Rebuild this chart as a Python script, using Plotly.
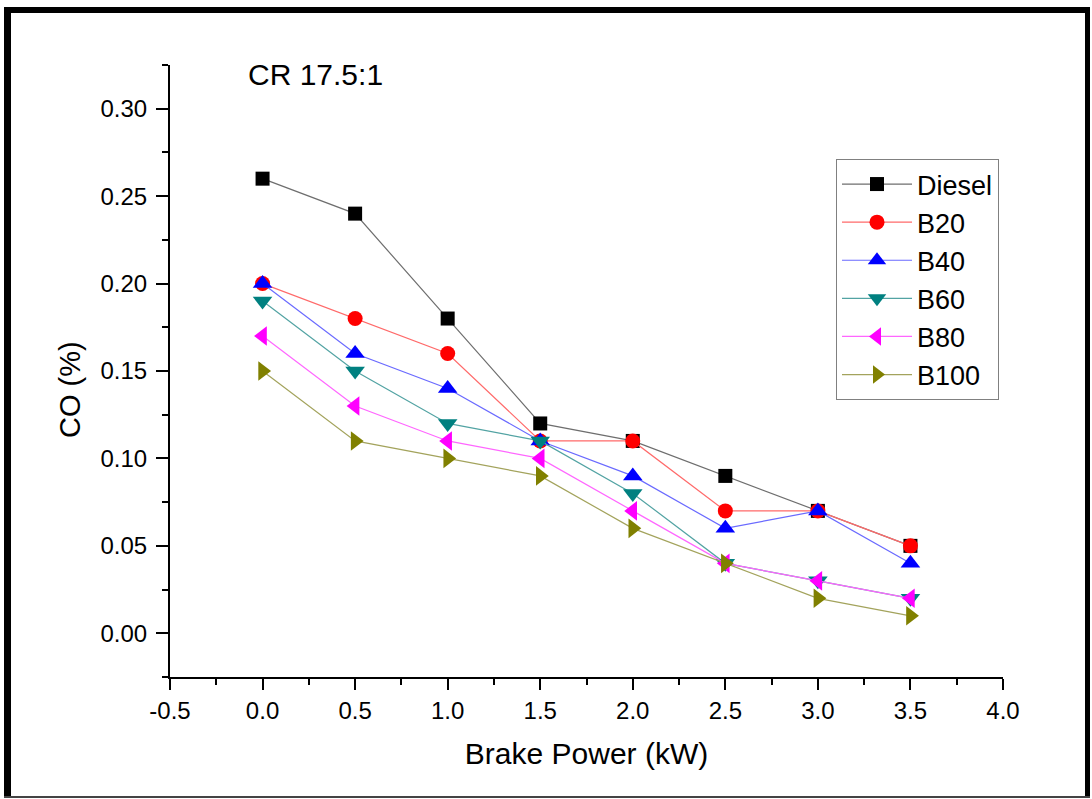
import plotly.graph_objects as go

# ---- data ----
brake_power = [0.0, 0.5, 1.0, 1.5, 2.0, 2.5, 3.0, 3.5]
diesel = [0.26, 0.24, 0.18, 0.12, 0.11, 0.09, 0.07, 0.05]
b20 = [0.20, 0.18, 0.16, 0.11, 0.11, 0.07, 0.07, 0.05]
b40 = [0.20, 0.16, 0.14, 0.11, 0.09, 0.06, 0.07, 0.04]
b60 = [0.19, 0.15, 0.12, 0.11, 0.08, 0.04, 0.03, 0.02]
b80 = [0.17, 0.13, 0.11, 0.10, 0.07, 0.04, 0.03, 0.02]
b100 = [0.15, 0.11, 0.10, 0.09, 0.06, 0.04, 0.02, 0.01]

x_tickvals = [-0.5, 0.0, 0.5, 1.0, 1.5, 2.0, 2.5, 3.0, 3.5, 4.0]
x_ticktext = ["-0.5", "0.0", "0.5", "1.0", "1.5", "2.0", "2.5", "3.0", "3.5", "4.0"]
y_tickvals = [0.00, 0.05, 0.10, 0.15, 0.20, 0.25, 0.30]
y_ticktext = ["0.00", "0.05", "0.10", "0.15", "0.20", "0.25", "0.30"]

series = [
    ("Diesel", diesel, "#000000", "#6e6e6e", "square", 14),
    ("B20", b20, "#ff0000", "#ff6a6a", "circle", 15),
    ("B40", b40, "#0000ff", "#6a6aff", "triangle-up", 17),
    ("B60", b60, "#008080", "#52a3a3", "triangle-down", 17),
    ("B80", b80, "#ff00ff", "#ff66ff", "triangle-left", 17),
    ("B100", b100, "#808000", "#a3a35c", "triangle-right", 17),
]

W, H = 1092, 799
ML, MR, MT, MB = 170, 89, 65, 122
PW, PH = W - ML - MR, H - MT - MB


def px(xp):
    return (xp - ML) / PW


def py(yp):
    return (H - MB - yp) / PH


FONT = "Liberation Sans, Arial, sans-serif"

fig = go.Figure()
for name, vals, mcol, lcol, sym, size in series:
    fig.add_trace(go.Scatter(
        x=brake_power, y=vals, name=name, mode="lines+markers",
        line=dict(color=lcol, width=1.2),
        marker=dict(symbol=sym, size=size, color=mcol, line=dict(width=0)),
    ))

fig.update_layout(
    width=W, height=H,
    margin=dict(l=ML, r=MR, t=MT, b=MB, pad=0),
    paper_bgcolor="white", plot_bgcolor="white",
    font=dict(family=FONT, color="black"),
    showlegend=True,
    legend=dict(
        x=px(836), y=py(159), xanchor="left", yanchor="top",
        bgcolor="white", bordercolor="#808080", borderwidth=1,
        font=dict(size=27, family=FONT), itemwidth=70,
        tracegroupgap=0,
    ),
    xaxis=dict(
        range=[-0.5, 4.0], tickvals=x_tickvals, ticktext=x_ticktext,
        showgrid=False, zeroline=False, showline=True, linecolor="black", linewidth=2,
        ticks="outside", ticklen=11, tickwidth=2, tickcolor="black",
        tickfont=dict(size=24, family=FONT),
        minor=dict(ticks="outside", ticklen=6, tickwidth=2, tickcolor="black", dtick=0.25, tick0=-0.5, showgrid=False),
        title=dict(text="Brake Power (kW)", font=dict(size=30, family=FONT), standoff=20),
    ),
    yaxis=dict(
        range=[-0.025, 0.325], tickvals=y_tickvals, ticktext=y_ticktext,
        showgrid=False, zeroline=False, showline=True, linecolor="black", linewidth=2,
        ticks="outside", ticklen=12, tickwidth=2, tickcolor="black",
        tickfont=dict(size=24, family=FONT), ticklabelstandoff=4,
        minor=dict(ticks="outside", ticklen=6, tickwidth=2, tickcolor="black", dtick=0.025, tick0=0.0, showgrid=False),
    ),
    annotations=[
        dict(text="CR 17.5:1", x=-0.087, y=0.3197, xref="x", yref="y",
             xanchor="left", yanchor="middle", showarrow=False,
             font=dict(size=30, family=FONT, color="black")),
        dict(text="CO (%)", x=px(70), y=py(390), xref="paper", yref="paper",
             xanchor="center", yanchor="middle", showarrow=False, textangle=-90,
             font=dict(size=29, family=FONT, color="black")),
    ],
    shapes=[
        # outer frame (thick black top/left, right; thin bottom)
        dict(type="rect", xref="paper", yref="paper", x0=px(4), x1=px(1090), y0=py(7), y1=py(13),
             fillcolor="black", line=dict(width=0)),
        dict(type="rect", xref="paper", yref="paper", x0=px(4), x1=px(11), y0=py(7), y1=py(798),
             fillcolor="black", line=dict(width=0)),
        dict(type="rect", xref="paper", yref="paper", x0=px(1085), x1=px(1090), y0=py(7), y1=py(798),
             fillcolor="black", line=dict(width=0)),
        dict(type="rect", xref="paper", yref="paper", x0=px(4), x1=px(1090), y0=py(796), y1=py(798),
             fillcolor="#444444", line=dict(width=0)),
    ],
)

fig.write_html("out.html")
